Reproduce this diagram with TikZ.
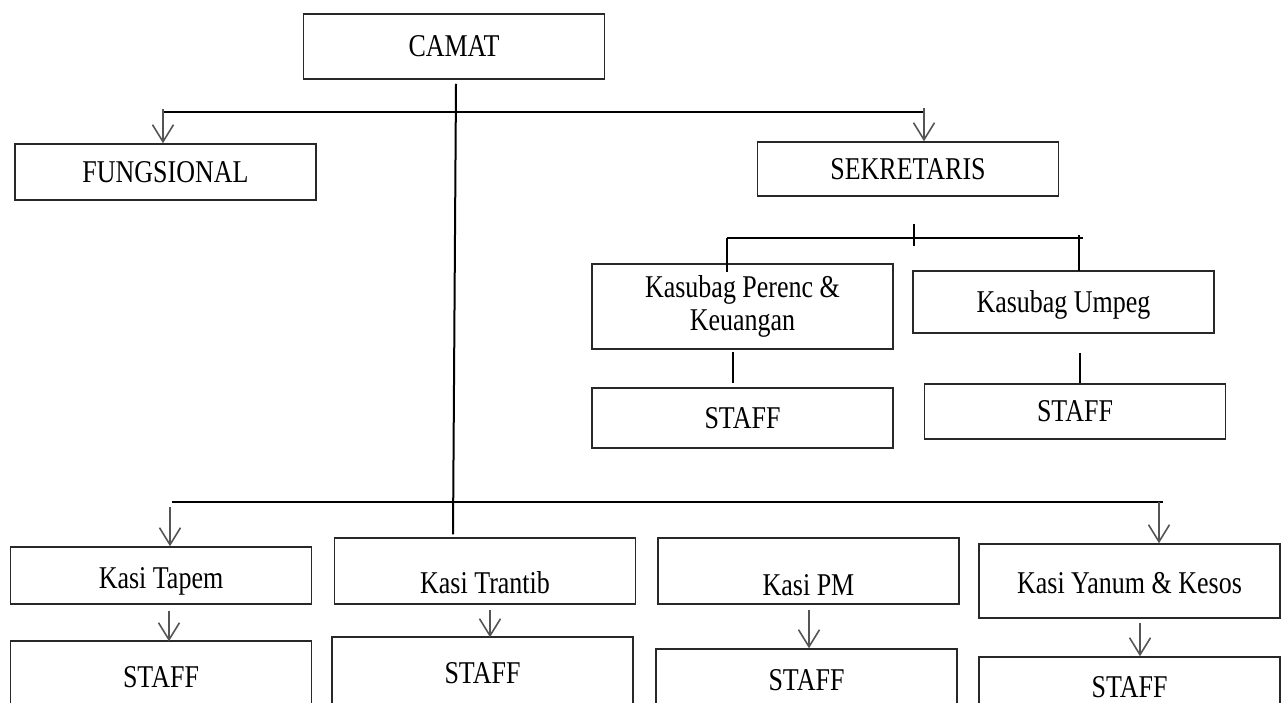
\documentclass[tikz,border=0pt]{standalone}
\usepackage{fontspec}
\setmainfont[FakeStretch=0.82]{Liberation Serif}
\usepackage{tikz}
\usetikzlibrary{arrows.meta,calc}
\definecolor{boxline}{RGB}{40,40,40}
\definecolor{arrowgray}{RGB}{85,85,85}

\begin{document}
\begin{tikzpicture}[x=1pt, y=-1pt,
  unit/.style={draw=boxline, fill=white, rectangle, inner sep=0pt, line width=1.5pt, align=center, font=\fontsize{31.7}{33}\selectfont, minimum width=301pt},
  low/.style={text height=#1, text depth=0pt},
  link/.style={line width=2pt},
  flow/.style={draw=arrowgray, line width=1.6pt, -{Straight Barb[length=17pt,width=21pt]}}
]
\useasboundingbox (0,0) rectangle (1284,702);
\clip (0,0) rectangle (1284,702);

\node[unit, minimum height=65pt] (camat) at (454,46.5) {CAMAT};
\node[unit, minimum height=56pt] (fungsional) at (165.5,172) {FUNGSIONAL};
\node[unit, minimum height=54pt] (sekretaris) at (908,169) {SEKRETARIS};
\node[unit, minimum height=85pt] (perenc) at (742.5,306.5) {Kasubag Perenc \&\\Keuangan};
\node[unit, minimum height=62pt, low=20pt] (umpeg) at (1063.5,302) {Kasubag Umpeg};
\node[unit, minimum height=60pt] (staffperenc) at (742.5,418) {STAFF};
\node[unit, minimum height=55pt] (staffumpeg) at (1075,411.5) {STAFF};
\node[unit, minimum height=57pt, low=25pt] (tapem) at (161,575.5) {Kasi Tapem};
\node[unit, minimum height=66pt, low=44pt] (trantib) at (485,571) {Kasi Trantib};
\node[unit, minimum height=66pt, low=48pt] (pm) at (808.5,571) {Kasi PM};
\node[unit, minimum height=74pt, low=24pt] (yanum) at (1129.5,581) {Kasi Yanum \& Kesos};
\node[unit, minimum height=72pt] (stafftapem) at (161,677) {STAFF};
\node[unit, minimum height=72pt] (stafftrantib) at (482.5,673) {STAFF};
\node[unit, minimum height=62pt] (staffpm) at (806.5,680) {STAFF};
\node[unit, minimum height=60pt] (staffyanum) at (1129.5,687) {STAFF};

\coordinate (topL) at (163,112);
\coordinate (topR) at (924,112);
\draw[link] (topL) -- (topR);
\draw[flow] ($(topL)+(0,-3)$) -- (topL |- fungsional.north);
\draw[flow] ($(topR)+(0,-4)$) -- (topR |- sekretaris.north);
\draw[link] ($(camat.south)+(2,4)$) -- ($(trantib.north)+(-32,-3)$);

\coordinate (subL) at (727,238);
\coordinate (subR) at (1083,238);
\draw[link] ($(sekretaris.south)+(6,27)$) -- ($(sekretaris.south)+(6,49)$);
\draw[link] (subL) -- (subR);
\draw[link] (subL) -- ($(subL |- perenc.north)+(0,9)$);
\draw[link, line width=2.5pt] ($(subR)+(-4,-3)$) -- ($(umpeg.north)+(15.5,1)$);
\draw[link] ($(perenc.south)+(-10,2)$) -- ($(staffperenc.north)+(-10,-4)$);
\draw[link] ($(umpeg.south)+(16.5,19)$) -- ($(staffumpeg.north)+(5,0)$);

\coordinate (botL) at (172,502);
\coordinate (botR) at (1163,502);
\draw[link] (botL) -- (botR);
\draw[flow] ($(botL)+(-2,5)$) -- ($(tapem.north)+(9,0)$);
\draw[flow] ($(botR)+(-4,0)$) -- ($(yanum.north)+(29.5,0)$);
\draw[flow] ($(tapem.south)+(8,6)$) -- ($(stafftapem.north)+(8,1)$);
\draw[flow] ($(trantib.south)+(5,5)$) -- ($(stafftrantib.north)+(7.5,1)$);
\draw[flow] ($(pm.south)+(0.5,5)$) -- ($(staffpm.north)+(2.5,0)$);
\draw[flow] ($(yanum.south)+(10.5,4)$) -- ($(staffyanum.north)+(10.5,0)$);

\end{tikzpicture}
\end{document}
